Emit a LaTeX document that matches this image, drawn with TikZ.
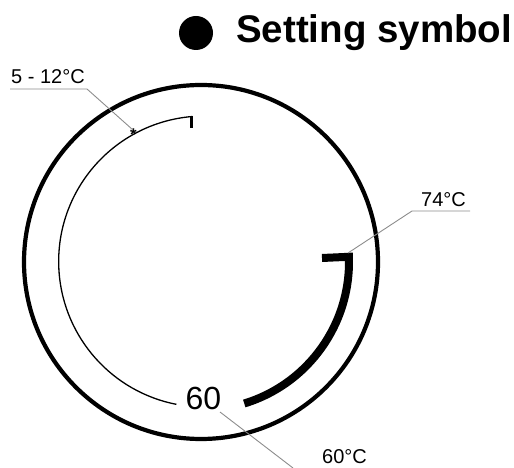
\documentclass[tikz,border=0pt]{standalone}
\usepackage{fontspec}
\setmainfont{Liberation Sans}
\begin{document}
\begin{tikzpicture}[x=1pt,y=1pt,
  outerring/.style={line width=4.2pt},
  thinarc/.style={line width=1.3pt},
  thickarc/.style={line width=8pt,line join=miter},
  leader/.style={draw=black!45,line width=0.9pt},
  lbl/.style={font=\fontsize{20}{23}\selectfont,inner sep=0pt,anchor=base west},
]
\useasboundingbox (0,0) rectangle (514,468);
% outer circle
\coordinate (c) at (201,206);
\draw[outerring] (c) circle[radius=177];
% thin arc with tick
\coordinate (tickbot) at (191,340);
\draw[line width=3pt] (tickbot) -- ++(0,11.5) coordinate (ticktop);
\draw[thinarc] (ticktop) ++(1.5,0) arc[start angle=94.6, end angle=259, radius=145.5];
% star
\coordinate (starpt) at (133,338);
\node[inner sep=0pt,font=\bfseries\fontsize{17}{17}\selectfont] (star) at (133.5,333.5) {*};
% thick arc
\coordinate (tab) at (322,210);
\draw[thickarc] (tab) -- (348.9,211.2) arc[start angle=2, end angle=-73, radius=148];
\coordinate (corner) at (348,215);
% 60 text
\node[inner sep=0pt,anchor=base,font=\fontsize{32}{32}\selectfont] (sixty) at (203.5,58) {60};
% labels
\node[lbl] (l512) at (11,384) {5 - 12°C};
\coordinate (u1a) at (10,379);
\coordinate (u1b) at (87,379);
\draw[leader] (u1a) -- (u1b) -- (starpt);
\node[lbl] (l74) at (421,261) {74°C};
\coordinate (u2a) at (470,257);
\coordinate (u2b) at (412,257);
\draw[leader] (u2a) -- (u2b) -- (corner);
\node[lbl] (l60) at (322,4) {60°C};
\coordinate (s1) at (220,56);
\coordinate (s2) at (293,0);
\draw[leader] (s1) -- (s2);
% title
\fill (196,435) circle[radius=17];
\node[inner sep=0pt,anchor=base west,font=\bfseries\fontsize{38.5}{40}\selectfont] (title) at (236,425) {Setting symbol};
\end{tikzpicture}
\end{document}
